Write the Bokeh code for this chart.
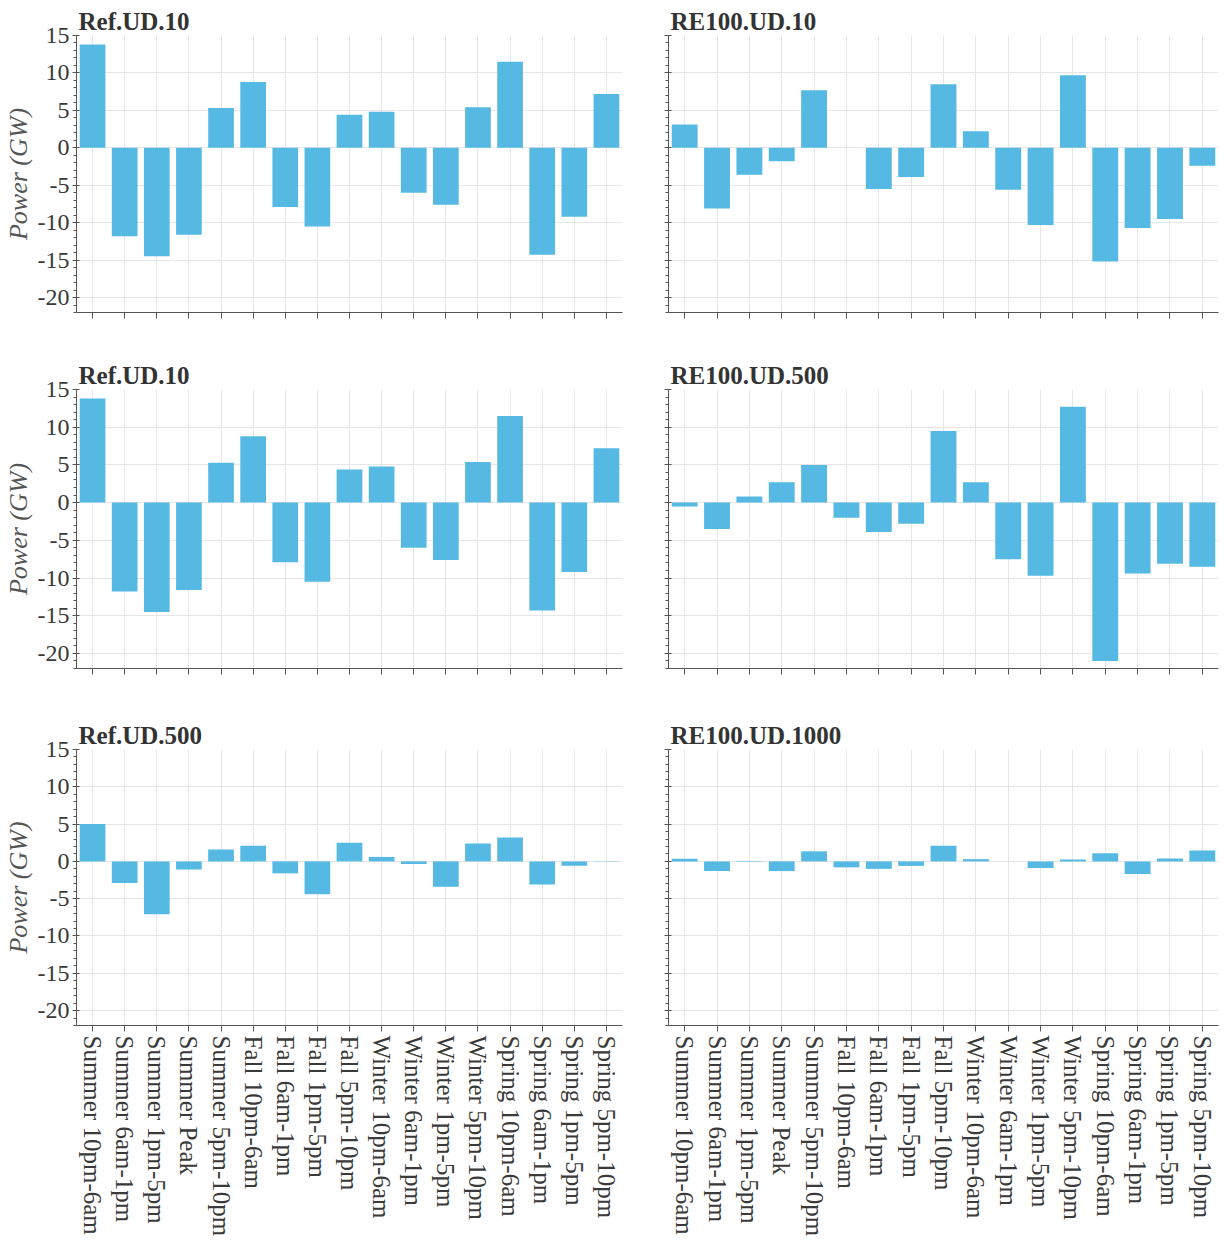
from bokeh.plotting import figure
from bokeh.layouts import gridplot
from bokeh.models import FactorRange, Range1d, SingleIntervalTicker, CustomJSTickFormatter
from bokeh.embed import file_html
from bokeh.resources import INLINE

categories = ["Summer 10pm-6am", "Summer 6am-1pm", "Summer 1pm-5pm", "Summer Peak",
              "Summer 5pm-10pm", "Fall 10pm-6am", "Fall 6am-1pm", "Fall 1pm-5pm",
              "Fall 5pm-10pm", "Winter 10pm-6am", "Winter 6am-1pm", "Winter 1pm-5pm",
              "Winter 5pm-10pm", "Spring 10pm-6am", "Spring 6am-1pm", "Spring 1pm-5pm",
              "Spring 5pm-10pm"]

ref_ud_10 = [13.8, -11.8, -14.5, -11.6, 5.3, 8.8, -7.9, -10.5, 4.4, 4.8,
             -6.0, -7.6, 5.4, 11.5, -14.3, -9.2, 7.2]
re100_ud_10 = [3.1, -8.1, -3.6, -1.8, 7.7, 0.0, -5.5, -3.9, 8.5, 2.2,
               -5.6, -10.3, 9.7, -15.2, -10.7, -9.5, -2.4]
re100_ud_500 = [-0.5, -3.5, 0.8, 2.7, 5.0, -2.0, -3.9, -2.8, 9.5, 2.7,
                -7.5, -9.7, 12.7, -21.0, -9.4, -8.1, -8.5]
ref_ud_500 = [5.0, -2.9, -7.1, -1.1, 1.6, 2.1, -1.6, -4.4, 2.5, 0.6,
              -0.35, -3.4, 2.4, 3.2, -3.1, -0.6, -0.05]
re100_ud_1000 = [0.35, -1.3, 0.05, -1.3, 1.35, -0.8, -1.0, -0.6, 2.1, 0.3,
                 0.0, -0.9, 0.25, 1.1, -1.7, 0.4, 1.45]

panels = [
    ("Ref.UD.10", ref_ud_10),
    ("RE100.UD.10", re100_ud_10),
    ("Ref.UD.10", ref_ud_10),
    ("RE100.UD.500", re100_ud_500),
    ("Ref.UD.500", ref_ud_500),
    ("RE100.UD.1000", re100_ud_1000),
]

y_min, y_max = -22, 15
bar_color = "#56B9E3"
FONT = "Liberation Serif"
TXT = "#3a3a3a"

row_heights = [357, 360, 522]
row_top = [35, 32, 32]
row_bottom = [45, 49, 212]


def make(idx, title, vals):
    r, c = divmod(idx, 2)
    left = c == 0
    bottom_row = r == 2
    w = 638 if left else 585
    p = figure(x_range=FactorRange(factors=categories),
               y_range=Range1d(y_min, y_max),
               width=w, height=row_heights[r],
               output_backend="svg", toolbar_location=None,
               min_border_left=75 if left else 30,
               min_border_right=16 if left else 5,
               min_border_top=row_top[r], min_border_bottom=row_bottom[r])
    p.vbar(x=categories, top=vals, bottom=0, width=0.8,
           fill_color=bar_color, line_color=None)
    p.title.text = title
    p.title.text_font = FONT
    p.title.text_font_size = "25px"
    p.title.text_font_style = "bold"
    p.title.text_color = "#333333"
    p.title.offset = 2
    p.title.standoff = 1
    p.outline_line_color = None
    p.background_fill_color = "white"
    p.border_fill_color = "white"

    p.yaxis.ticker = SingleIntervalTicker(interval=5, num_minor_ticks=5)
    p.ygrid.ticker = SingleIntervalTicker(interval=5)
    p.grid.grid_line_color = "#e6e6e6"
    p.grid.grid_line_width = 1

    for ax in (p.xaxis[0], p.yaxis[0]):
        ax.axis_line_color = "#555555"
        ax.major_tick_line_color = "#555555"
        ax.minor_tick_line_color = "#555555"
        ax.major_label_text_font = FONT
        ax.major_label_text_color = TXT
        ax.major_label_text_font_size = "24px"
    p.yaxis.major_tick_in = 3
    p.yaxis.major_tick_out = 4
    p.yaxis.minor_tick_in = 0
    p.yaxis.minor_tick_out = 3
    p.yaxis.major_label_standoff = 3
    p.xaxis.major_tick_in = 0
    p.xaxis.major_tick_out = 6

    if left:
        p.yaxis.formatter = CustomJSTickFormatter(code="return tick.toString();")
        p.yaxis.axis_label = "Power (GW)"
        p.yaxis.axis_label_text_font = FONT
        p.yaxis.axis_label_text_font_style = "italic"
        p.yaxis.axis_label_text_font_size = "26px"
        p.yaxis.axis_label_text_color = "#555555"
        p.yaxis.axis_label_standoff = 2
    else:
        p.yaxis.formatter = CustomJSTickFormatter(code="return '';")

    if bottom_row:
        p.xaxis.major_label_orientation = "vertical"
        p.xaxis.major_label_text_font_size = "25px"
        p.xaxis.major_label_standoff = 4
    else:
        p.xaxis.formatter = CustomJSTickFormatter(code="return '';")
    return p


figs = [make(i, t, v) for i, (t, v) in enumerate(panels)]
grid = gridplot([[figs[0], figs[1]], [figs[2], figs[3]], [figs[4], figs[5]]],
                toolbar_location=None)

open("out.html", "w").write(file_html(grid, INLINE))
